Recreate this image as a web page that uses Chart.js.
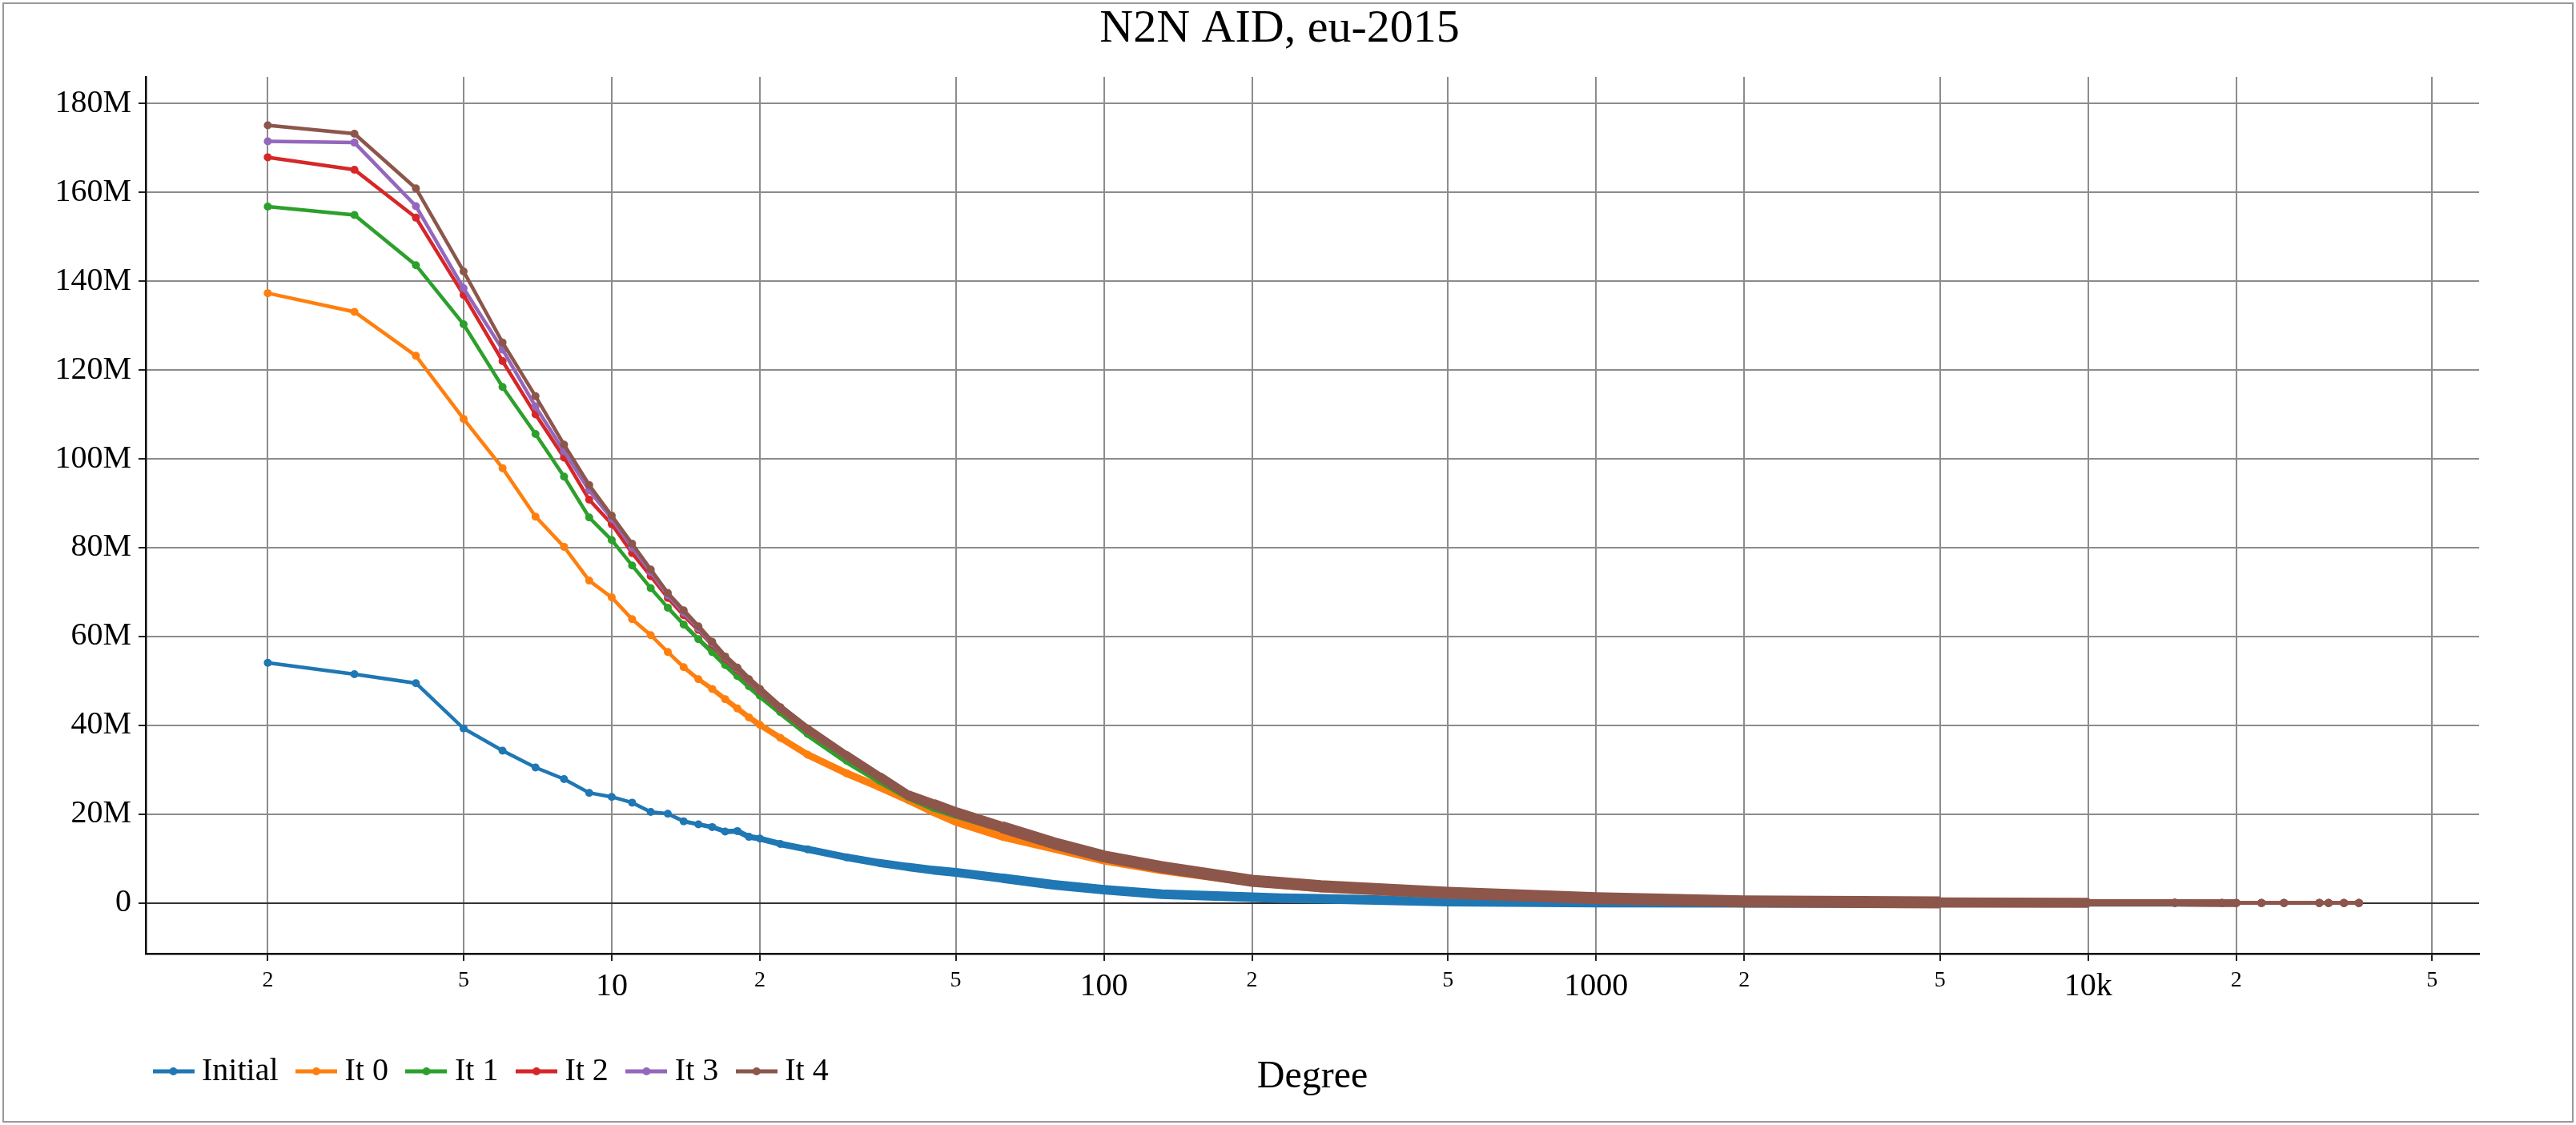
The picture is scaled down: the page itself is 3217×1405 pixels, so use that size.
<!DOCTYPE html>
<html>
<head>
<meta charset="utf-8">
<script src="https://cdn.jsdelivr.net/npm/chart.js@4.4.1/dist/chart.umd.min.js"></script>
<style>
  html, body { margin: 0; padding: 0; background: #fff; }
  #wrap { width: 3217px; height: 1405px; }
</style>
</head>
<body>
<div id="wrap"><canvas id="degreeChart" width="3217" height="1405"></canvas></div>
<script>
// degree values (x) and series values in millions (y)
const degrees = [2, 3, 4, 5, 6, 7, 8, 9, 10, 11, 12, 13, 14, 15, 16, 17, 18, 19, 20,
    22, 25, 30, 35, 40, 45, 50, 62, 79, 100, 131, 200, 229, 276, 500, 1000, 2000, 5000, 10000,
    15000, 18700, 20000, 22500, 25000, 29500, 30800, 33100, 35500];

const initialVals = [54.1, 51.5, 49.5, 39.3, 34.3, 30.5, 27.9, 24.8, 23.9, 22.6, 20.5, 20.1, 18.4, 17.7, 17.1, 16.1, 16.2, 14.9, 14.5,
    13.3, 12.1, 10.3, 9.0, 8.1, 7.4, 6.9, 5.6, 4.1, 3.0, 2.0, 1.3, 1.1, 0.95, 0.3, 0.1, 0.05, 0.02, 0.01,
    0.005, 0.005, 0.005, 0.005, 0.005, 0.005, 0.005, 0.005, 0.005];
const it0Vals = [137.3, 133.1, 123.2, 109.0, 97.9, 87.0, 80.2, 72.6, 68.8, 63.9, 60.3, 56.5, 53.1, 50.4, 48.2, 45.9, 43.8, 41.8, 40.1,
    37.2, 33.4, 29.2, 26.1, 23.2, 20.5, 18.3, 15.0, 12.3, 9.6, 7.4, 4.7, 4.1, 3.3, 1.9, 0.9, 0.33, 0.11, 0.05,
    0.03, 0.02, 0.02, 0.015, 0.012, 0.01, 0.01, 0.008, 0.008];
const it1Vals = [156.8, 154.9, 143.6, 130.3, 116.2, 105.6, 96.0, 86.8, 81.7, 76.0, 70.9, 66.5, 62.7, 59.4, 56.5, 53.6, 51.1, 48.8, 46.7,
    43.0, 38.1, 32.1, 27.6, 24.0, 21.5, 19.9, 16.8, 13.3, 10.3, 7.9, 4.9, 4.4, 3.7, 2.2, 1.05, 0.35, 0.12, 0.05,
    0.03, 0.02, 0.02, 0.015, 0.012, 0.01, 0.01, 0.008, 0.008];
const it2Vals = [167.9, 165.1, 154.3, 136.9, 122.0, 110.0, 100.3, 90.8, 85.3, 78.8, 73.6, 68.7, 64.8, 61.5, 58.2, 55.0, 52.5, 50.0, 47.8,
    43.8, 39.0, 33.1, 28.3, 24.2, 22.1, 20.3, 17.0, 13.4, 10.4, 8.0, 5.0, 4.5, 3.8, 2.3, 1.1, 0.36, 0.12, 0.05,
    0.03, 0.02, 0.02, 0.015, 0.012, 0.01, 0.01, 0.008, 0.008];
const it3Vals = [171.5, 171.2, 156.9, 138.4, 124.6, 111.8, 101.7, 92.9, 86.5, 80.0, 74.5, 69.3, 65.4, 61.9, 58.5, 55.3, 52.8, 50.2, 48.0,
    44.0, 39.2, 33.2, 28.4, 24.3, 22.2, 20.4, 17.1, 13.5, 10.5, 8.1, 5.0, 4.5, 3.8, 2.3, 1.1, 0.36, 0.12, 0.05,
    0.03, 0.02, 0.02, 0.015, 0.012, 0.01, 0.01, 0.008, 0.008];
const it4Vals = [175.1, 173.2, 160.9, 142.2, 126.2, 114.1, 103.2, 94.1, 87.2, 80.9, 75.1, 69.8, 65.9, 62.3, 58.8, 55.5, 53.0, 50.4, 48.2,
    44.1, 39.3, 33.3, 28.5, 24.3, 22.3, 20.4, 17.1, 13.5, 10.5, 8.1, 5.0, 4.5, 3.8, 2.3, 1.1, 0.36, 0.12, 0.05,
    0.03, 0.02, 0.02, 0.015, 0.012, 0.01, 0.01, 0.008, 0.008];

const seriesNames = ['Initial', 'It 0', 'It 1', 'It 2', 'It 3', 'It 4'];
const seriesValues = [initialVals, it0Vals, it1Vals, it2Vals, it3Vals, it4Vals];
const seriesColors = ['#1f77b4', '#ff7f0e', '#2ca02c', '#d62728', '#9467bd', '#8c564b'];
const bandMax = [12, 10, 10, 10, 10, 15];

const xTickValues = [2, 5, 10, 20, 50, 100, 200, 500, 1000, 2000, 5000, 10000, 20000, 50000];
const xTickLabels = ['2', '5', '10', '2', '5', '100', '2', '5', '1000', '2', '5', '10k', '2', '5'];
const xMajor = [10, 100, 1000, 10000];
const yTickValues = [0, 20, 40, 60, 80, 100, 120, 140, 160, 180];

const FONT = '"Liberation Serif", "Times New Roman", serif';
const W = 3217, H = 1405;
const PLOT_LEFT = 182, PLOT_RIGHT = 3096, PLOT_TOP = 96, PLOT_BOTTOM = 1191;
const PAD_BOTTOM = 37;
const LEGEND_LEFT = 169;

// dense, noisy points show up as a thick band in the original
function bandWidth(d, maxW) {
    const L = Math.log10(d);
    if (L < 1.1) return 4.5;
    if (L < 1.4) return 4.5 + 4.5 * (L - 1.1) / 0.3;
    if (L < 1.8) return 9 + (maxW - 9) * (L - 1.4) / 0.4;
    if (L < 3.5) return maxW;
    if (L < 4.0) return maxW + (9 - maxW) * (L - 3.5) / 0.5;
    if (L < 4.28) return 9;
    return 4.5;
}

function legendMark(color) {
    const c = document.createElement('canvas');
    c.width = 52;
    c.height = 14;
    const g = c.getContext('2d');
    g.strokeStyle = color;
    g.lineWidth = 5;
    g.beginPath();
    g.moveTo(0, 7);
    g.lineTo(52, 7);
    g.stroke();
    g.fillStyle = color;
    g.beginPath();
    g.arc(26, 7, 5, 0, Math.PI * 2);
    g.fill();
    return c;
}

const datasets = seriesNames.map((name, i) => ({
    label: name,
    data: degrees.map((d, k) => ({ x: d, y: seriesValues[i][k] })),
    borderColor: seriesColors[i],
    backgroundColor: seriesColors[i],
    borderWidth: 4.5,
    pointRadius: 5,
    pointHoverRadius: 5,
    pointBorderWidth: 0,
    pointBackgroundColor: seriesColors[i],
    order: seriesNames.length - 1 - i,
    segment: {
        borderWidth: ctx => bandWidth(ctx.p0.parsed.x, bandMax[i])
    }
}));

const marks = seriesColors.map(legendMark);

const figurePlugin = {
    id: 'figure',
    afterLayout(chart) {
        // legend row starts a little right of the canvas edge
        chart.legend.left = LEGEND_LEFT;
    },
    beforeDraw(chart) {
        const ctx = chart.ctx;
        ctx.save();
        ctx.fillStyle = '#fff';
        ctx.fillRect(0, 0, W, H);
        ctx.strokeStyle = '#999';
        ctx.lineWidth = 2;
        ctx.strokeRect(4, 4, W - 8, H - 8);
        ctx.restore();
    },
    afterDraw(chart) {
        const ctx = chart.ctx;
        ctx.save();
        ctx.fillStyle = '#000';
        ctx.textAlign = 'center';
        ctx.textBaseline = 'alphabetic';
        ctx.font = '58px ' + FONT;
        ctx.fillText('N2N AID, eu-2015', 1598, 52);
        ctx.font = '48px ' + FONT;
        const a = chart.chartArea;
        ctx.fillText('Degree', (a.left + a.right) / 2, 1358);
        ctx.restore();
    }
};

new Chart(document.getElementById('degreeChart'), {
    type: 'line',
    data: { datasets: datasets },
    plugins: [figurePlugin],
    options: {
        responsive: false,
        animation: false,
        devicePixelRatio: 1,
        layout: { padding: { left: 0, right: W - PLOT_RIGHT, top: PLOT_TOP, bottom: PAD_BOTTOM } },
        scales: {
            x: {
                type: 'logarithmic',
                min: 1.13,
                max: 62300,
                afterBuildTicks: scale => {
                    scale.ticks = xTickValues.map(v => ({ value: v }));
                },
                afterFit: scale => {
                    scale.height = H - PAD_BOTTOM - scale.chart.legend.height - PLOT_BOTTOM;
                },
                ticks: {
                    autoSkip: false,
                    maxRotation: 0,
                    padding: 8,
                    color: '#000',
                    font: ctx => ({ family: FONT, size: ctx.tick && xMajor.includes(ctx.tick.value) ? 40 : 28 }),
                    callback: (v, i) => xTickLabels[i]
                },
                grid: { color: '#8c8c8c', lineWidth: 2, tickLength: 9, tickWidth: 2, tickColor: '#222' },
                border: { color: '#000', width: 2.5 }
            },
            y: {
                type: 'linear',
                min: -11.4,
                max: 186,
                afterBuildTicks: scale => {
                    scale.ticks = yTickValues.map(v => ({ value: v }));
                },
                afterFit: scale => {
                    scale.width = PLOT_LEFT;
                },
                ticks: {
                    padding: 9,
                    color: '#000',
                    font: { family: FONT, size: 40 },
                    callback: v => v === 0 ? '0' : v + 'M'
                },
                grid: {
                    color: ctx => ctx.tick && ctx.tick.value === 0 ? '#333' : '#8c8c8c',
                    lineWidth: 2, tickLength: 9, tickWidth: 2, tickColor: '#222'
                },
                border: { color: '#000', width: 2.5 }
            }
        },
        plugins: {
            title: { display: false },
            tooltip: { enabled: false },
            legend: {
                position: 'bottom',
                align: 'start',
                labels: {
                    color: '#000',
                    font: { family: FONT, size: 40 },
                    usePointStyle: true,
                    pointStyleWidth: 31,
                    boxHeight: 14,
                    padding: 32,
                    sort: (a, b) => a.datasetIndex - b.datasetIndex,
                    generateLabels: chart => {
                        const items = Chart.defaults.plugins.legend.labels.generateLabels(chart);
                        items.forEach(it => { it.pointStyle = marks[it.datasetIndex]; });
                        return items;
                    }
                }
            }
        }
    }
});
</script>
</body>
</html>
